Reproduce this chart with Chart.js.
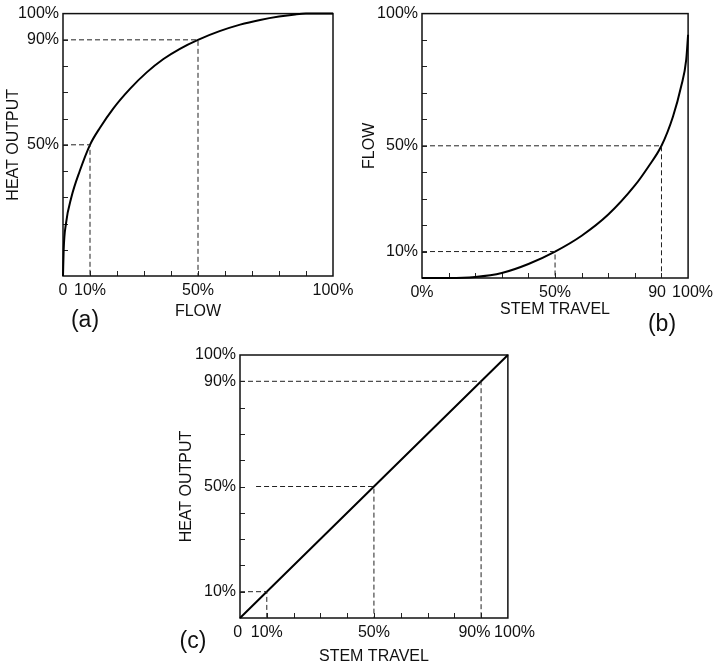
<!DOCTYPE html>
<html>
<head>
<meta charset="utf-8">
<script src="https://cdn.jsdelivr.net/npm/chart.js@4"></script>
<style>
  body { margin: 0; background: #fff; }
  #wrap { position: relative; width: 718px; height: 666px; overflow: hidden; background: #fff; }
  canvas { position: absolute; }
  .tag { position: absolute; font: 23px 'Liberation Sans', Arial, sans-serif; line-height: 23px; transform: translateX(-50%); color: #111; }
</style>
</head>
<body>
<div id="wrap">
  <canvas id="chartA" width="360" height="340" style="left:0;top:0"></canvas>
  <canvas id="chartB" width="358" height="340" style="left:360px;top:0"></canvas>
  <canvas id="chartC" width="370" height="326" style="left:170px;top:340px"></canvas>
  <div class="tag" style="left:85px;top:308px">(a)</div>
  <div class="tag" style="left:662px;top:312px">(b)</div>
  <div class="tag" style="left:193px;top:629px">(c)</div>
</div>
<script>
// (a) heat output vs flow
const flowA = [0, 0.25, 1.1, 3.1, 6.2, 10, 13.7, 18.6, 24.8, 31, 37.2, 43.3, 50, 58, 65.6, 73, 80, 86, 90, 100];
const heatA = [0, 10, 20, 30, 40, 50, 56.5, 63.8, 71.3, 77.6, 82.7, 86.6, 90, 93.3, 95.8, 97.6, 98.9, 99.7, 100, 100];
const guideXA = [10, 50];
const guideYA = [50, 90];
const guideFromA = [0, 0];
const xTickValsA = [0, 10, 50, 100];
const xTickTextA = ['0', '10%', '50%', '100%'];
const yTickValsA = [50, 90, 100];
const yTickTextA = ['50%', '90%', '100%'];

// (b) flow vs stem travel
const stemB = [0, 10, 20, 30, 40, 50, 60, 70, 80, 85, 90, 94.3, 97.4, 99.3, 100];
const flowB = [0, 0, 0.4, 1.9, 5.3, 10, 16, 24, 35, 42, 50, 61, 72.5, 82.6, 92];
const guideXB = [50, 90];
const guideYB = [10, 50];
const guideFromB = [0, 0];
const xTickValsB = [0, 50, 90, 100];
const xTickTextB = ['0%', '50%', '90  ', '  100%'];
const yTickValsB = [10, 50, 100];
const yTickTextB = ['10%', '50%', '100%'];

// (c) heat output vs stem travel
const stemC = [0, 100];
const heatC = [0, 100];
const guideXC = [10, 50, 90];
const guideYC = [10, 50, 90];
const guideFromC = [0, 6, 0];
const xTickValsC = [0, 10, 50, 90, 100];
const xTickTextC = ['0 ', '10%', '50%', '90%   ', '   100%'];
const yTickValsC = [10, 50, 90, 100];
const yTickTextC = ['10%', '50%', '90%', '100%'];

Chart.defaults.font.family = "'Liberation Sans', Arial, sans-serif";
Chart.defaults.color = '#111';

// box round the plot plus the short inward tick marks
const framePlugin = {
  id: 'frame',
  beforeDatasetsDraw(chart) {
    const { ctx, chartArea: a, scales } = chart;
    ctx.save();
    ctx.strokeStyle = '#222';
    ctx.lineWidth = 1;
    ctx.beginPath();
    scales.x.ticks.forEach(t => {
      if (t.value <= 0 || t.value >= 100) return;
      const px = Math.round(scales.x.getPixelForValue(t.value)) + 0.5;
      ctx.moveTo(px, a.bottom);
      ctx.lineTo(px, a.bottom - 5);
    });
    scales.y.ticks.forEach(t => {
      if (t.value <= 0 || t.value >= 100) return;
      const py = Math.round(scales.y.getPixelForValue(t.value)) + 0.5;
      ctx.moveTo(a.left, py);
      ctx.lineTo(a.left + 5, py);
    });
    ctx.stroke();
    ctx.strokeStyle = '#111';
    ctx.lineWidth = 1.5;
    ctx.strokeRect(a.left, a.top, a.right - a.left, a.bottom - a.top);
    ctx.restore();
  }
};

function pick(vals, text) {
  return (v) => {
    const i = vals.indexOf(v);
    return i < 0 ? '' : text[i];
  };
}

function makeChart(id, cfg) {
  const guides = cfg.gx.map((gx, i) => ({
    data: [{ x: cfg.gFrom[i], y: cfg.gy[i] }, { x: gx, y: cfg.gy[i] }, { x: gx, y: 0 }],
    showLine: true,
    borderColor: '#222',
    borderWidth: 1,
    borderDash: [5, 3],
    pointRadius: 0,
    tension: 0,
    clip: false
  }));
  const curve = {
    data: cfg.xs.map((x, i) => ({ x: x, y: cfg.ys[i] })),
    showLine: true,
    borderColor: '#000',
    borderWidth: 2,
    pointRadius: 0,
    cubicInterpolationMode: 'monotone',
    clip: false
  };

  new Chart(document.getElementById(id), {
    type: 'scatter',
    data: { datasets: guides.concat([curve]) },
    options: {
      responsive: false,
      animation: false,
      events: [],
      layout: { padding: { left: 0, top: cfg.padTop, right: cfg.padRight, bottom: 0 } },
      plugins: { legend: { display: false }, tooltip: { enabled: false } },
      scales: {
        x: {
          type: 'linear',
          min: 0,
          max: 100,
          border: { display: false },
          grid: { display: false, drawTicks: false },
          ticks: {
            stepSize: 10,
            autoSkip: false,
            maxRotation: 0,
            padding: 5,
            color: '#111',
            font: { size: 16 },
            callback: pick(cfg.xVals, cfg.xText)
          },
          title: {
            display: true,
            text: cfg.xTitle,
            color: '#111',
            font: { size: 16 },
            padding: { top: 0, bottom: cfg.xTitlePad }
          },
          afterFit: (s) => { s.height = cfg.xAxisH; }
        },
        y: {
          type: 'linear',
          min: 0,
          max: 100,
          border: { display: false },
          grid: { display: false, drawTicks: false },
          ticks: {
            stepSize: 10,
            autoSkip: false,
            padding: 4,
            color: '#111',
            font: { size: 16 },
            callback: pick(cfg.yVals, cfg.yText)
          },
          title: {
            display: true,
            text: cfg.yTitle,
            color: '#111',
            font: { size: 16 },
            padding: { top: cfg.yTitlePad, bottom: 0 }
          },
          afterFit: (s) => { s.width = cfg.yAxisW; }
        }
      }
    },
    plugins: [framePlugin]
  });
}

makeChart('chartA', {
  xs: flowA, ys: heatA,
  gx: guideXA, gy: guideYA, gFrom: guideFromA,
  xVals: xTickValsA, xText: xTickTextA, yVals: yTickValsA, yText: yTickTextA,
  xTitle: 'FLOW', yTitle: 'HEAT OUTPUT',
  padTop: 11, padRight: 27, yAxisW: 63, xAxisH: 64,
  xTitlePad: 18.4, yTitlePad: 4.4
});

makeChart('chartB', {
  xs: stemB, ys: flowB,
  gx: guideXB, gy: guideYB, gFrom: guideFromB,
  xVals: xTickValsB, xText: xTickTextB, yVals: yTickValsB, yText: yTickTextB,
  xTitle: 'STEM TRAVEL', yTitle: 'FLOW',
  padTop: 13, padRight: 26, yAxisW: 62, xAxisH: 62,
  xTitlePad: 20.4, yTitlePad: 0.4
});

makeChart('chartC', {
  xs: stemC, ys: heatC,
  gx: guideXC, gy: guideYC, gFrom: guideFromC,
  xVals: xTickValsC, xText: xTickTextC, yVals: yTickValsC, yText: yTickTextC,
  xTitle: 'STEM TRAVEL', yTitle: 'HEAT OUTPUT',
  padTop: 15, padRight: 31, yAxisW: 70, xAxisH: 48,
  xTitlePad: 0, yTitlePad: 7.4
});
</script>
</body>
</html>
